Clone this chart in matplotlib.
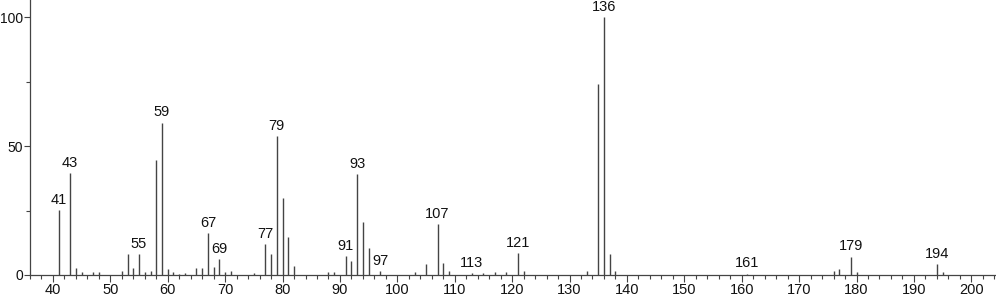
import matplotlib.pyplot as plt
from matplotlib.ticker import MultipleLocator

plt.rcParams['font.family'] = ['Liberation Sans', 'DejaVu Sans']

# m/z and relative intensity
mz = [41, 43, 44, 45, 47, 48, 52, 53, 54, 55, 56, 57, 58, 59, 60, 61, 62, 63,
      65, 66, 67, 68, 69, 70, 71, 75, 77, 78, 79, 80, 81, 82, 88, 89,
      91, 92, 93, 94, 95, 97, 103, 105, 107, 108, 109, 113, 115, 117, 119,
      121, 122, 133, 135, 136, 137, 138, 161, 176, 177, 179, 180, 194, 195]
inten = [25.2, 39.5, 2.7, 1.0, 1.0, 1.0, 1.7, 8.0, 2.7, 8.0, 1.2, 1.5, 44.6, 59.0, 2.5, 1.2, 0.5, 0.8,
         2.8, 2.8, 16.2, 3.2, 6.1, 1.0, 1.5, 0.8, 12.0, 8.0, 53.9, 29.7, 14.9, 3.6, 1.0, 1.0,
         7.4, 5.6, 39.1, 20.5, 10.5, 1.5, 1.0, 4.3, 19.8, 4.5, 1.5, 0.8, 0.8, 1.0, 1.2,
         8.4, 1.5, 1.7, 74.0, 100.0, 8.1, 1.5, 0.5, 1.5, 2.4, 7.1, 1.0, 4.1, 1.0]
labeled = [41, 43, 55, 59, 67, 69, 77, 79, 91, 93, 97, 107, 113, 121, 136, 161, 179, 194]

fig = plt.figure(figsize=(9.96, 2.99), dpi=100)
ax = fig.add_axes([30 / 996, 24 / 299, 966 / 996, 275 / 299])

ax.vlines(mz, 0, inten, color='#444444', lw=1.0)
for m, v in zip(mz, inten):
    if m in labeled:
        ax.text(m, v + 1.3, str(m), ha='center', va='bottom', fontsize=10.5, color='#111111')

ax.set_xlim(36.0, 204.3)
ax.set_ylim(0, 106.6)
ax.xaxis.set_major_locator(MultipleLocator(10))
ax.xaxis.set_minor_locator(MultipleLocator(2))
ax.set_yticks([0, 50, 100])
ax.yaxis.set_minor_locator(MultipleLocator(25))
ax.tick_params(axis='both', which='major', width=0.8, color='#444444', labelcolor='#111111')
ax.tick_params(axis='x', which='major', length=5, pad=1, labelsize=10.5)
ax.tick_params(axis='y', which='major', length=4.5, pad=0.5, labelsize=10)
ax.tick_params(axis='both', which='minor', length=3, width=0.8, color='#444444')
for s in ['top', 'right']:
    ax.spines[s].set_visible(False)
for s in ['left', 'bottom']:
    ax.spines[s].set_color('#444444')
    ax.spines[s].set_linewidth(0.9)

fig.savefig('out.png', dpi=100)
